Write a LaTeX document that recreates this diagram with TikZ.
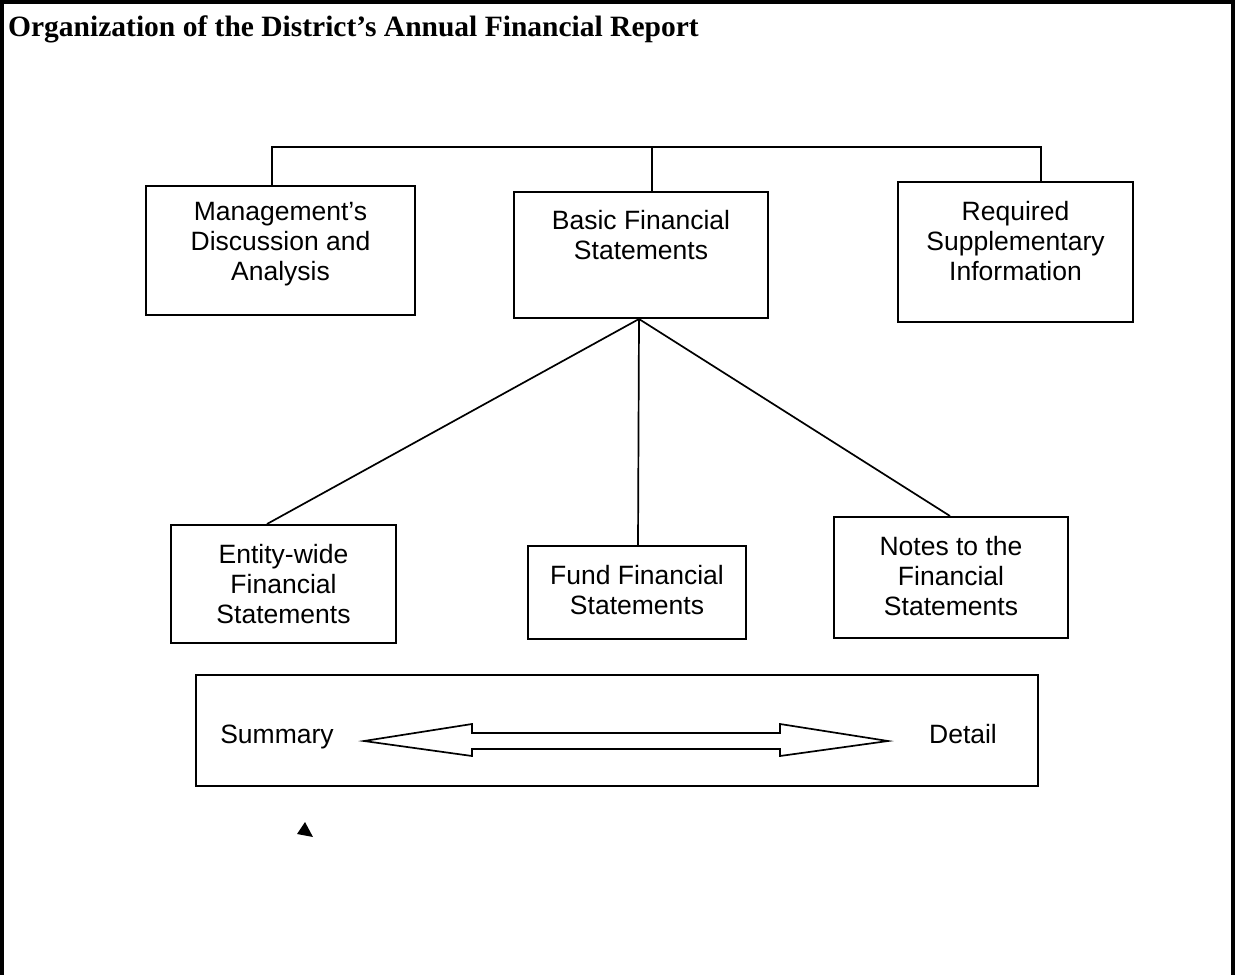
\documentclass[tikz,border=0pt]{standalone}
\usepackage{fontspec}
\setmainfont{Liberation Sans}
\newfontfamily\titlefont{Liberation Serif}
\begin{document}
\begin{tikzpicture}[x=1pt,y=-1pt,
  box/.style={draw, line width=2pt, inner sep=0pt},
  txt/.style={font=\fontsize{26.5}{30}\selectfont, align=center, inner sep=0pt},
  conn/.style={line width=1.7pt},
  frame/.style={line width=3.2pt}]
\useasboundingbox (0,0) rectangle (1236,974);
% outer frame
\draw[frame] (2,976) -- (2,2) -- (1233,2) -- (1233,976);
% title
\node[anchor=base west, inner sep=0pt, font=\titlefont\bfseries\fontsize{29.5}{32}\selectfont] (title) at (8,37) {Organization of the District’s Annual Financial Report};
% top level boxes
\node[box, minimum width=269pt, minimum height=129pt] (mda) at (280.5,250.5) {};
\node[txt] (mdat) at (280.5,244) {Management’s\\Discussion and\\Analysis};
\node[box, minimum width=254pt, minimum height=126pt] (bfs) at (641,255) {};
\node[txt] (bfst) at (641,235) {Basic Financial\\Statements};
\node[box, minimum width=235pt, minimum height=140pt] (rsi) at (1015.5,252) {};
\node[txt] (rsit) at (1015.5,241) {Required\\Supplementary\\Information};
% bottom level boxes
\node[box, minimum width=225pt, minimum height=118pt] (ent) at (283.5,584) {};
\node[txt] (entt) at (283.5,584) {Entity-wide\\Financial\\Statements};
\node[box, minimum width=218pt, minimum height=93pt] (fund) at (637,592.5) {};
\node[txt] (fundt) at (637,590) {Fund Financial\\Statements};
\node[box, minimum width=234pt, minimum height=121pt] (notes) at (951,577.5) {};
\node[txt] (notest) at (951,576) {Notes to the\\Financial\\Statements};
% bracket
\coordinate (bl) at ([xshift=-8.5pt]mda.north);
\draw[conn] (bl) -- ++(0,-38) -| ([xshift=25.5pt]rsi.north);
\draw[conn] ([xshift=11pt]bfs.north) -- ++(0,-43);
% fan out
\coordinate (apex) at ([xshift=-2pt]bfs.south);
\draw[conn] (apex) -- ([xshift=-16.5pt]ent.north);
\draw[conn] (apex) -- ([xshift=1pt]fund.north);
\draw[conn] (apex) -- ([xshift=-1pt]notes.north);
% summary / detail box
\node[box, minimum width=842pt, minimum height=111pt] (sum) at (617,730.5) {};
\node[txt, anchor=base] (summ) at (277,743) {Summary};
\node[txt, anchor=base] (det) at (963,743) {Detail};
\draw[line width=1.7pt, line join=miter]
  (364,741) -- (472,724) -- (472,733) -- (780,733) -- (780,724) -- (888,741)
  -- (780,756) -- (780,749) -- (472,749) -- (472,756) -- cycle;
% small triangle
\fill (305,822) -- (297,834) -- (313,837) -- cycle;
\end{tikzpicture}
\end{document}
